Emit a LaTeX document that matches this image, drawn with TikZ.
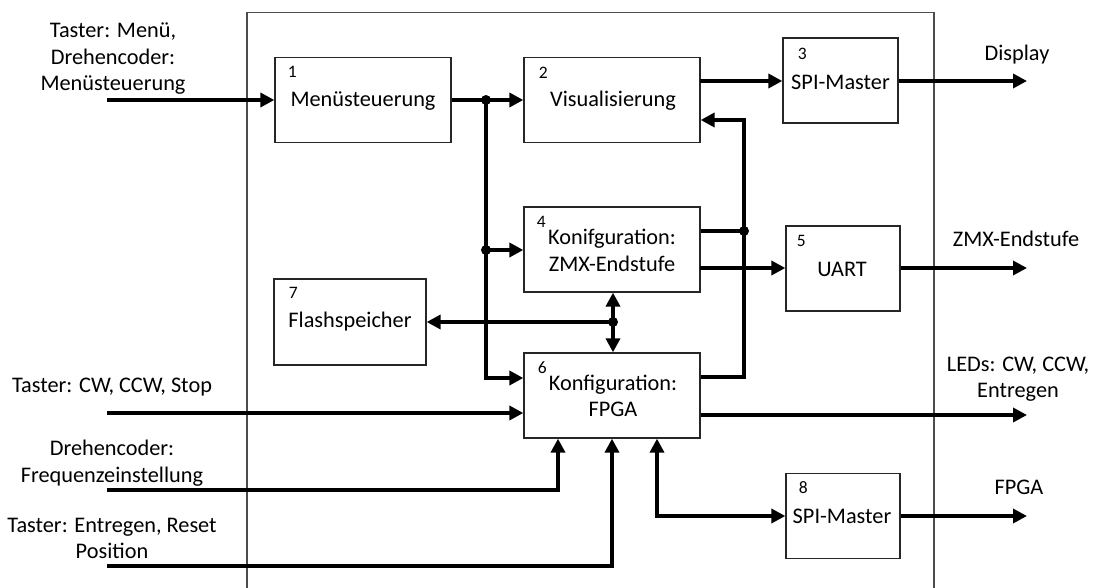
\documentclass[tikz,border=0pt]{standalone}
\usepackage{fontspec}
\setmainfont{Carlito}
\usetikzlibrary{arrows.meta}
\begin{document}
\begin{tikzpicture}[x=1pt,y=-1pt,
  txt/.style={font=\fontsize{22.3}{26.5}\selectfont, inner sep=0pt, align=center},
  num/.style={font=\fontsize{17.5}{20}\selectfont, inner sep=0pt},
  block/.style={draw=black!85, line width=1.3pt, minimum width=#1, minimum height=85pt, inner sep=0pt},
  frame/.style={draw=black!70, line width=1.4pt},
  wire/.style={line width=4pt},
  arr/.style={wire, -{Triangle[length=14pt,width=14pt]}},
  both/.style={wire, {Triangle[length=14pt,width=14pt]}-{Triangle[length=14pt,width=14pt]}},
  dot/.style={circle, fill, inner sep=0pt, minimum size=10pt}]
\useasboundingbox (0,0) rectangle (1094,588);

% housing
\draw[frame] (247,588) -- (247,12.7) -- (934,12.7) -- (934,588);

% blocks
\node[block=176pt] (b1) at (363,100) {};
\node[block=176pt] (b2) at (612,100) {};
\node[block=115pt] (b3) at (840.5,80.5) {};
\node[block=176pt] (b4) at (612,249.5) {};
\node[block=114pt] (b5) at (843,268.5) {};
\node[block=176pt] (b6) at (612,395.5) {};
\node[block=152pt, minimum height=86pt] (b7) at (350,322) {};
\node[block=114pt] (b8) at (843,516) {};

% block numbers
\node[num] (n1) at ([shift={(18,15.5)}]b1.north west) {1};
\node[num] (n2) at ([shift={(20,15.5)}]b2.north west) {2};
\node[num] (n3) at ([shift={(20,16.5)}]b3.north west) {3};
\node[num] (n4) at ([shift={(18,16)}]b4.north west) {4};
\node[num] (n5) at ([shift={(16,16)}]b5.north west) {5};
\node[num] (n6) at ([shift={(19,15)}]b6.north west) {6};
\node[num] (n7) at ([shift={(20,15)}]b7.north west) {7};
\node[num] (n8) at ([shift={(18,14.5)}]b8.north west) {8};

% block texts
\node[txt] (t1) at ([shift={(0,1)}]b1.center) {Menüsteuerung};
\node[txt] (t2) at ([shift={(1,1)}]b2.center) {Visualisierung};
\node[txt] (t3) at ([shift={(0,1.5)}]b3.center) {SPI-Master};
\node[txt] (t4) at ([shift={(0,1)}]b4.center) {Konifguration:\\ZMX-Endstufe};
\node[txt] (t5) at ([shift={(-1,0.5)}]b5.center) {UART};
\node[txt] (t6) at ([shift={(1,0.5)}]b6.center) {Konfiguration:\\FPGA};
\node[txt] (t7) at (b7.center) {Flashspeicher};
\node[txt] (t8) at ([shift={(-1,0)}]b8.center) {SPI-Master};

% outer labels
\node[txt] (l1) at (113,59) {Taster: Menü,\\Drehencoder:\\Menüsteuerung};
\node[txt] (l2) at (112,387) {Taster: CW, CCW, Stop};
\node[txt] (l3) at (112,463) {Drehencoder:\\Frequenzeinstellung};
\node[txt] (l4) at (112,538.5) {Taster: Entregen, Reset\\Position};
\node[txt] (r1) at (1017,55) {Display};
\node[txt] (r2) at (1016,239) {ZMX-Endstufe};
\node[txt] (r3) at (1018,379) {LEDs: CW, CCW,\\Entregen};
\node[txt] (r4) at (1019,487) {FPGA};

% free ends and bends
\coordinate (i1) at (107,100);
\coordinate (i2) at (107,413);
\coordinate (i3) at (107,490);
\coordinate (i4) at (107,566);
\coordinate (o3) at (1027,81);
\coordinate (o5) at (1027,268);
\coordinate (o6) at (1027,415);
\coordinate (o8) at (1027,516);
\coordinate (k6) at (486,378);
\coordinate (f1) at (744,377);
\coordinate (f2) at (744,120);
\coordinate (c3) at (558,490);
\coordinate (c4) at (612,566);
\coordinate (c8) at (657,516);
\coordinate (h4) at (700,268);
\coordinate (h2) at (700,81);

% junctions
\node[dot] (j1) at (486,100) {};
\node[dot] (j2) at (486,250) {};
\node[dot] (j3) at (744,231) {};
\node[dot] (j4) at (613,322) {};

% connectors
\draw[arr] (i1) -- (i1 -| b1.west);
\draw[wire] (b1.east) -- (j1.center);
\draw[arr] (j1.center) -- (j1 -| b2.west);
\draw[arr] (j1.center) -- (k6) -- (k6 -| b6.west);
\draw[arr] (j2.center) -- (j2 -| b4.west);
\draw[arr] (h2) -- (h2 -| b3.west);
\draw[arr] (b3.east |- o3) -- (o3);
\draw[arr] (h4) -- (h4 -| b5.west);
\draw[arr] (b5.east |- o5) -- (o5);
\draw[wire] (b4.east |- j3) -- (j3.center);
\draw[arr] (b6.east |- f1) -- (f1) -- (f2) -- (f2 -| b2.east);
\draw[both] (b4.south -| j4) -- (b6.north -| j4);
\draw[arr] (j4.center) -- (j4 -| b7.east);
\draw[arr] (b6.east |- o6) -- (o6);
\draw[arr] (i2) -- (i2 -| b6.west);
\draw[arr] (i3) -| (b6.south -| c3);
\draw[arr] (i4) -| (b6.south -| c4);
\draw[both] (b6.south -| c8) |- (b8.west);
\draw[arr] (b8.east) -- (o8);
\end{tikzpicture}
\end{document}
